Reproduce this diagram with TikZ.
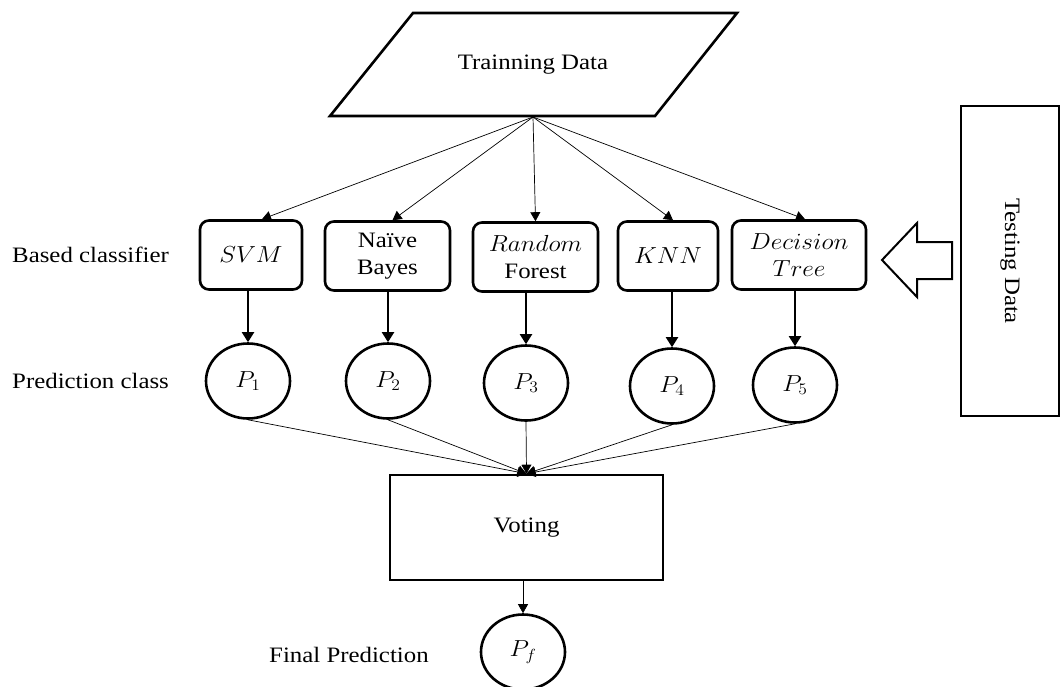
\documentclass[tikz,border=0pt]{standalone}
\usepackage{fontspec}
\setmainfont{Liberation Serif}[FakeStretch=1.13]
\usetikzlibrary{arrows.meta,shapes.geometric}
\newcommand{\wm}[1]{\scalebox{1.22}[1.12]{$#1$}}
\begin{document}
\begin{tikzpicture}[x=1pt,y=-1pt,
  every node/.style={font=\fontsize{22}{27}\selectfont},
  cls/.style={draw,line width=2.6pt,rounded corners=9pt,minimum height=69pt,inner sep=0pt,align=center},
  pc/.style={draw,ellipse,line width=2.6pt,minimum width=84pt,minimum height=75pt,inner sep=0pt},
  thinarr/.style={line width=0.7pt,-{Triangle[length=9pt,width=10pt]}},
  thickarr/.style={line width=2pt,-{Triangle[length=10pt,width=12pt]}},
  lbl/.style={anchor=west,inner sep=0pt}]
\useasboundingbox (0,0) rectangle (1062,686);

% training data
\draw[line width=2.6pt,line join=miter] (330,116) -- (655,116) -- (737,13) -- (413,13) -- cycle;
\node (train) at (533,65) {Trainning Data};
\coordinate (fan) at (533,117);

% classifiers
\node[cls,minimum width=102pt] (svm) at (251,255) {\wm{SVM}};
\node[cls,minimum width=125pt] (nb) at (387.5,256) {Naïve\\Bayes};
\node[cls,minimum width=125pt] (rf) at (535.5,257) {\wm{Random}\\Forest};
\node[cls,minimum width=100pt] (knn) at (668,256) {\wm{KNN}};
\node[cls,minimum width=134pt] (dt) at (799,255) {\wm{Decision}\\\wm{Tree}};

\draw[thinarr] (fan) -- ([xshift=11pt]svm.north);
\draw[thinarr] (fan) -- ([xshift=5pt]nb.north);
\draw[thinarr] (fan) -- (rf.north);
\draw[thinarr] (fan) -- ([xshift=5pt]knn.north);
\draw[thinarr] (fan) -- ([xshift=6pt]dt.north);

% predictions
\node[pc] (p1) at (248,381) {\wm{P_1}};
\node[pc] (p2) at (388,381) {\wm{P_2}};
\node[pc] (p3) at (526,383) {\wm{P_3}};
\node[pc] (p4) at (672,386) {\wm{P_4}};
\node[pc] (p5) at (795,385) {\wm{P_5}};

\draw[thickarr] (p1.north |- svm.south) -- (p1.north);
\draw[thickarr] (p2.north |- nb.south) -- (p2.north);
\draw[thickarr] (p3.north |- rf.south) -- (p3.north);
\draw[thickarr] (p4.north |- knn.south) -- (p4.north);
\draw[thickarr] (p5.north |- dt.south) -- (p5.north);

% voting
\node[draw,line width=2.6pt,minimum width=273pt,minimum height=105pt,inner sep=0pt] (vote) at (526.5,527.5) {Voting};
\draw[thinarr] (p1.south) -- (vote.north);
\draw[thinarr] (p2.south) -- (vote.north);
\draw[thinarr] (p3.south) -- (vote.north);
\draw[thinarr] (p4.south) -- (vote.north);
\draw[thinarr] (p5.south) -- (vote.north);

\node[pc] (pf) at (523,652) {\wm{P_f}};
\draw[thinarr] (pf.north |- vote.south) -- (pf.north);

% testing data
\node[draw,line width=2pt,rotate=-90,minimum width=310pt,minimum height=98pt,inner sep=0pt] (test) at (1010,261) {Testing Data};
\draw[line width=2pt,line join=miter] (882,260) -- (917,223) -- (917,242) -- (952,242) -- (952,279) -- (917,279) -- (917,297) -- cycle;

% labels
\node[lbl] (lb1) at (12,255) {Based classifier};
\node[lbl] (lb2) at (12,381) {Prediction class};
\node[lbl] (lb3) at (269,655) {Final Prediction};
\end{tikzpicture}
\end{document}
